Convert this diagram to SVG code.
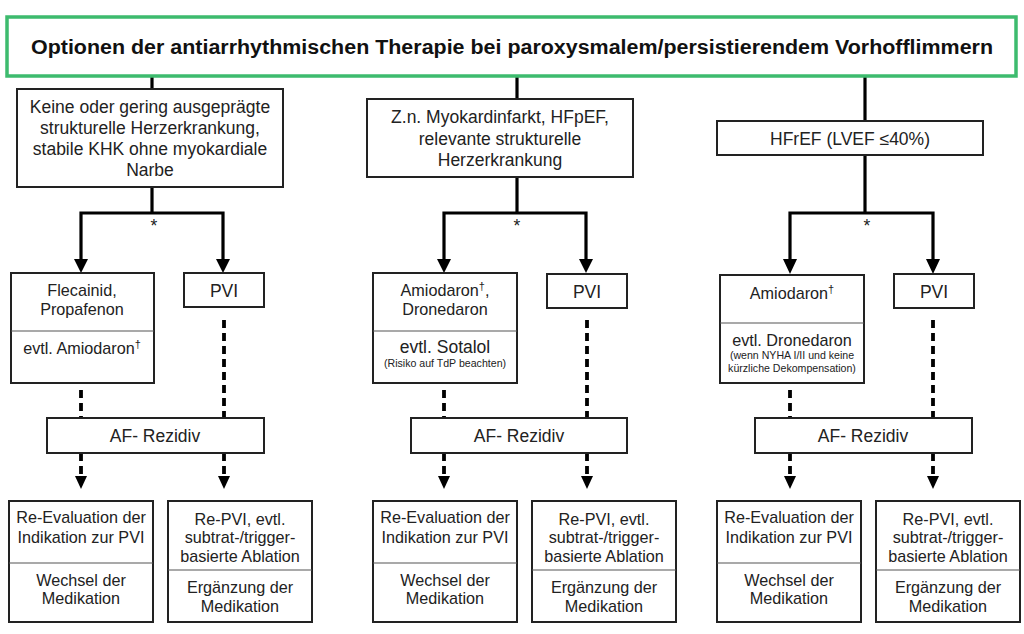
<svg xmlns="http://www.w3.org/2000/svg" width="1024" height="634" viewBox="0 0 1024 634">
<defs>
<style>
.box{fill:#fff;stroke:#222;stroke-width:2}
.div{stroke:#555;stroke-width:1.2}
.t{font-family:"Liberation Sans",Arial,sans-serif;font-size:17.5px;fill:#222;text-anchor:middle}
.m{font-family:"Liberation Sans",Arial,sans-serif;font-size:16.2px;fill:#222;text-anchor:middle}
.s{font-family:"Liberation Sans",Arial,sans-serif;font-size:10.6px;fill:#222;text-anchor:middle}
.solid{fill:none;stroke:#000;stroke-width:3.2}
.dash{fill:none;stroke:#000;stroke-width:3.8;stroke-dasharray:8 5}
.head{fill:#000}
</style>
</defs>
<rect width="1024" height="634" fill="#fff"/>
<g id="connectors">
<line class="solid" x1="152" y1="77" x2="152" y2="89"/>
<line class="solid" x1="517" y1="77" x2="517" y2="99"/>
<line class="solid" x1="865" y1="77" x2="865" y2="121"/>
<line class="solid" x1="152" y1="187" x2="152" y2="213"/>
<path class="solid" d="M152 213 H81 V262"/>
<path class="solid" d="M152 213 H223 V262"/>
<line class="solid" x1="517" y1="177" x2="517" y2="213"/>
<path class="solid" d="M517 213 H444 V262"/>
<path class="solid" d="M517 213 H586 V262"/>
<line class="solid" x1="865" y1="155" x2="865" y2="213"/>
<path class="solid" d="M865 213 H790 V262"/>
<path class="solid" d="M865 213 H933 V262"/>
<path class="head" d="M74 259 L88 259 L81 273 Z"/>
<path class="head" d="M216 259 L230 259 L223 273 Z"/>
<path class="head" d="M437 259 L451 259 L444 273 Z"/>
<path class="head" d="M579 259 L593 259 L586 273 Z"/>
<path class="head" d="M783 259 L797 259 L790 274 Z"/>
<path class="head" d="M926 259 L940 259 L933 274 Z"/>
<text class="t" x="154" y="232">*</text>
<text class="t" x="517" y="232">*</text>
<text class="t" x="867" y="232">*</text>
<line class="dash" x1="81" y1="390" x2="81" y2="418"/>
<line class="dash" x1="224" y1="320" x2="224" y2="418"/>
<line class="dash" x1="444" y1="390" x2="444" y2="418"/>
<line class="dash" x1="587" y1="320" x2="587" y2="418"/>
<line class="dash" x1="790" y1="390" x2="790" y2="418"/>
<line class="dash" x1="933" y1="320" x2="933" y2="418"/>
<line class="dash" x1="81" y1="453" x2="81" y2="478"/>
<line class="dash" x1="224" y1="453" x2="224" y2="478"/>
<line class="dash" x1="444" y1="453" x2="444" y2="478"/>
<line class="dash" x1="587" y1="453" x2="587" y2="478"/>
<line class="dash" x1="790" y1="453" x2="790" y2="478"/>
<line class="dash" x1="933" y1="453" x2="933" y2="478"/>
<path class="head" d="M75 476 L87 476 L81 489 Z"/>
<path class="head" d="M218 476 L230 476 L224 489 Z"/>
<path class="head" d="M438 476 L450 476 L444 489 Z"/>
<path class="head" d="M581 476 L593 476 L587 489 Z"/>
<path class="head" d="M784 476 L796 476 L790 489 Z"/>
<path class="head" d="M927 476 L939 476 L933 489 Z"/>
</g>
<g id="title">
<rect x="7" y="17" width="1009" height="59" fill="#fff" stroke="#3dbb6e" stroke-width="3.5"/>
<text x="512" y="54" font-family="&quot;Liberation Sans&quot;,Arial,sans-serif" font-size="20" font-weight="bold" fill="#111" text-anchor="middle" textLength="962" lengthAdjust="spacingAndGlyphs">Optionen der antiarrhythmischen Therapie bei paroxysmalem/persistierendem Vorhofflimmern</text>
</g>
<g id="cat1">
<rect class="box" x="17" y="89" width="266" height="98"/>
<text class="t" x="150" y="113">Keine oder gering ausgeprägte</text>
<text class="t" x="150" y="134">strukturelle Herzerkrankung,</text>
<text class="t" x="150" y="155">stabile KHK ohne myokardiale</text>
<text class="t" x="150" y="176">Narbe</text>
</g>
<g id="cat2">
<rect class="box" x="367" y="99" width="266" height="78"/>
<text class="t" x="500" y="123">Z.n. Myokardinfarkt, HFpEF,</text>
<text class="t" x="500" y="145">relevante strukturelle</text>
<text class="t" x="500" y="166">Herzerkrankung</text>
</g>
<g id="cat3">
<rect class="box" x="717" y="121" width="266" height="34"/>
<text class="t" x="850" y="145">HFrEF (LVEF ≤40%)</text>
</g>
<g id="med1">
<rect class="box" x="11" y="273" width="143" height="110"/>
<line class="div" x1="11" y1="331" x2="154" y2="331"/>
<text class="m" x="82" y="296">Flecainid,</text>
<text class="m" x="82" y="315">Propafenon</text>
<text class="m" x="82" y="354">evtl. Amiodaron<tspan font-size="11" dy="-6">†</tspan></text>
</g>
<g id="pvi1">
<rect class="box" x="184" y="273" width="80" height="34"/>
<text class="t" x="224" y="297">PVI</text>
</g>
<g id="med2">
<rect class="box" x="373" y="273" width="144" height="110"/>
<line class="div" x1="373" y1="331" x2="517" y2="331"/>
<text class="m" x="445" y="296">Amiodaron<tspan font-size="11" dy="-6">†</tspan><tspan dy="6">,</tspan></text>
<text class="m" x="445" y="315">Dronedaron</text>
<text class="t" x="445" y="353">evtl. Sotalol</text>
<text class="s" x="445" y="367">(Risiko auf TdP beachten)</text>
</g>
<g id="pvi2">
<rect class="box" x="547" y="274" width="80" height="34"/>
<text class="t" x="587" y="298">PVI</text>
</g>
<g id="med3">
<rect class="box" x="720" y="275" width="144" height="108"/>
<line class="div" x1="720" y1="323" x2="864" y2="323"/>
<text class="m" x="792" y="299">Amiodaron<tspan font-size="11" dy="-6">†</tspan></text>
<text class="m" x="792" y="346">evtl. Dronedaron</text>
<text class="s" x="792" y="359">(wenn NYHA I/II und keine</text>
<text class="s" x="792" y="372">kürzliche Dekompensation)</text>
</g>
<g id="pvi3">
<rect class="box" x="894" y="274" width="80" height="34"/>
<text class="t" x="934" y="298">PVI</text>
</g>
<g id="af1">
<rect class="box" x="47" y="418" width="217" height="35"/>
<text class="t" x="155" y="442">AF- Rezidiv</text>
</g>
<g id="af2">
<rect class="box" x="411" y="418" width="216" height="35"/>
<text class="t" x="519" y="442">AF- Rezidiv</text>
</g>
<g id="af3">
<rect class="box" x="755" y="418" width="217" height="35"/>
<text class="t" x="863" y="442">AF- Rezidiv</text>
</g>
<g id="re1">
<rect class="box" x="9" y="501" width="144" height="121"/>
<line class="div" x1="9" y1="563" x2="153" y2="563"/>
<text class="m" x="81" y="523">Re-Evaluation der</text>
<text class="m" x="81" y="543">Indikation zur PVI</text>
<text class="m" x="81" y="586">Wechsel der</text>
<text class="m" x="81" y="604">Medikation</text>
</g>
<g id="rp1">
<rect class="box" x="168" y="501" width="144" height="121"/>
<line class="div" x1="168" y1="570" x2="312" y2="570"/>
<text class="m" x="240" y="525">Re-PVI, evtl.</text>
<text class="m" x="240" y="543">subtrat-/trigger-</text>
<text class="m" x="240" y="562">basierte Ablation</text>
<text class="m" x="240" y="593">Ergänzung der</text>
<text class="m" x="240" y="612">Medikation</text>
</g>
<g id="re2">
<rect class="box" x="373" y="501" width="144" height="121"/>
<line class="div" x1="373" y1="563" x2="517" y2="563"/>
<text class="m" x="445" y="523">Re-Evaluation der</text>
<text class="m" x="445" y="543">Indikation zur PVI</text>
<text class="m" x="445" y="586">Wechsel der</text>
<text class="m" x="445" y="604">Medikation</text>
</g>
<g id="rp2">
<rect class="box" x="532" y="501" width="144" height="121"/>
<line class="div" x1="532" y1="570" x2="676" y2="570"/>
<text class="m" x="604" y="525">Re-PVI, evtl.</text>
<text class="m" x="604" y="543">subtrat-/trigger-</text>
<text class="m" x="604" y="562">basierte Ablation</text>
<text class="m" x="604" y="593">Ergänzung der</text>
<text class="m" x="604" y="612">Medikation</text>
</g>
<g id="re3">
<rect class="box" x="717" y="501" width="144" height="121"/>
<line class="div" x1="717" y1="563" x2="861" y2="563"/>
<text class="m" x="789" y="523">Re-Evaluation der</text>
<text class="m" x="789" y="543">Indikation zur PVI</text>
<text class="m" x="789" y="586">Wechsel der</text>
<text class="m" x="789" y="604">Medikation</text>
</g>
<g id="rp3">
<rect class="box" x="876" y="501" width="144" height="121"/>
<line class="div" x1="876" y1="570" x2="1020" y2="570"/>
<text class="m" x="948" y="525">Re-PVI, evtl.</text>
<text class="m" x="948" y="543">subtrat-/trigger-</text>
<text class="m" x="948" y="562">basierte Ablation</text>
<text class="m" x="948" y="593">Ergänzung der</text>
<text class="m" x="948" y="612">Medikation</text>
</g>
</svg>
